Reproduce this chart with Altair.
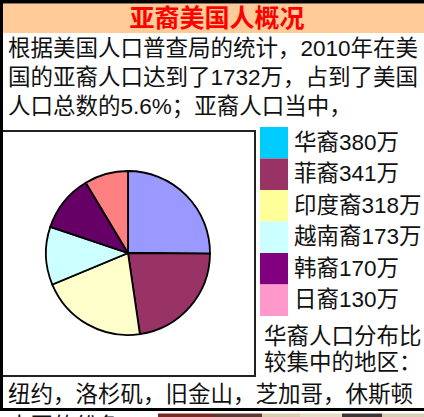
import altair as alt
import pandas as pd

# ---- data ----
categories = ["华裔", "菲裔", "印度裔", "越南裔", "韩裔", "日裔"]
values = [380, 341, 318, 173, 170, 130]
pie_colors = ["#9999FF", "#993366", "#FFFFCC", "#CCFFFF", "#660066", "#FF8080"]
legend_colors = ["#00CCFF", "#993366", "#FFFF99", "#CCFFFF", "#800080", "#FF99CC"]
unit = "万"
title_text = "亚裔美国人概况"
intro_lines = [
    "根据美国人口普查局的统计，2010年在美",
    "国的亚裔人口达到了1732万，占到了美国",
    "人口总数的5.6%；亚裔人口当中，",
]
side_lines = ["华裔人口分布比", "较集中的地区："]
bottom_lines = ["纽约，洛杉矶，旧金山，芝加哥，休斯顿", "大国的纷争"]
strip_colors = ["#7A2A24", "#5A3A30", "#D9CBB0", "#E6DCC6", "#3E3634", "#D8CDB5"]

W, H = 424, 417
FONT = "Liberation Sans, Noto Sans CJK SC, sans-serif"
FS = 22.5

def px(field):
    return alt.X(f"{field}:Q", scale=None, axis=None)

def py(field):
    return alt.Y(f"{field}:Q", scale=None, axis=None)

# ---- frame / boxes ----
frame_df = pd.DataFrame({
    "x0": [0, 0, 0, 3, 1],
    "x1": [W, 3, W, W, 255],
    "y0": [0, 0, 408, 3.5, 131],
    "y1": [3.5, 411, 411, 33, 376],
    "fill": ["#000000", "#000000", "#000000", "#FFCC99", "#FFFFFF"],
})
frame_fill = alt.Chart(frame_df.iloc[[3]]).mark_rect().encode(
    x=px("x0"), x2="x1", y=py("y0"), y2="y1",
    color=alt.Color("fill:N", scale=None),
)
box = alt.Chart(frame_df.iloc[[4]]).mark_rect(
    fill="white", stroke="#222222", strokeWidth=2
).encode(x=px("x0"), x2="x1", y=py("y0"), y2="y1")
bars = alt.Chart(frame_df.iloc[[0, 1, 2]]).mark_rect().encode(
    x=px("x0"), x2="x1", y=py("y0"), y2="y1",
    color=alt.Color("fill:N", scale=None),
)

# ---- bottom photo strip (decorative) ----
strip_df = pd.DataFrame({"color": strip_colors, "i": range(len(strip_colors))})
edges = [158, 215, 262, 300, 342, 382, W]
strip_df["x0"] = edges[:-1]
strip_df["x1"] = edges[1:]
strip = alt.Chart(strip_df).mark_rect().encode(
    x=px("x0"), x2="x1", y=alt.value(413.5), y2=alt.value(H),
    color=alt.Color("color:N", scale=None),
)

# ---- title ----
title = alt.Chart(pd.DataFrame({"t": [title_text]})).mark_text(
    font=FONT, fontSize=25, fontWeight="bold", color="#FF0000",
    align="center", baseline="middle",
).encode(x=alt.value(217), y=alt.value(19), text="t:N")

# ---- text lines ----
intro_df = pd.DataFrame({"t": intro_lines, "i": range(len(intro_lines))})
intro_df["y"] = 48.5 + intro_df["i"] * 29
intro = alt.Chart(intro_df).mark_text(
    font=FONT, fontSize=FS, color="#111111", align="left", baseline="middle"
).encode(x=alt.value(8), y=py("y"), text="t:N")

side_df = pd.DataFrame({"t": side_lines, "i": range(len(side_lines))})
side_df["y"] = 337 + side_df["i"] * 26
side = alt.Chart(side_df).mark_text(
    font=FONT, fontSize=FS, color="#111111", align="left", baseline="middle"
).encode(x=alt.value(264), y=py("y"), text="t:N")

bottom_df = pd.DataFrame({"t": bottom_lines, "i": range(len(bottom_lines))})
bottom_df["y"] = 395 + bottom_df["i"] * 32
bottom = alt.Chart(bottom_df).mark_text(
    font=FONT, fontSize=FS, color="#111111", align="left", baseline="middle"
).encode(x=alt.value(8), y=py("y"), text="t:N")

# ---- pie ----
pie_df = pd.DataFrame({
    "cat": categories, "value": values, "color": pie_colors, "order": range(len(values))
})
pie = alt.Chart(pie_df).mark_arc(stroke="black", strokeWidth=1.8, radius=82).encode(
    theta=alt.Theta("value:Q", stack=True),
    order=alt.Order("order:Q"),
    color=alt.Color("color:N", scale=None),
    x=alt.value(128), y=alt.value(253),
)

# ---- legend ----
leg_df = pd.DataFrame({
    "label": [f"{c}{v}{unit}" for c, v in zip(categories, values)],
    "color": legend_colors,
    "i": range(len(categories)),
})
leg_df["y0"] = 127 + leg_df["i"] * 31.5
leg_df["y1"] = leg_df["y0"] + 31.5
leg_df["ym"] = leg_df["y0"] + 15.5
leg_sw = alt.Chart(leg_df).mark_rect().encode(
    x=alt.value(260), x2=alt.value(288), y=py("y0"), y2="y1",
    color=alt.Color("color:N", scale=None),
)
leg_txt = alt.Chart(leg_df).mark_text(
    font=FONT, fontSize=FS, color="#111111", align="left", baseline="middle"
).encode(x=alt.value(294), y=py("ym"), text="label:N")

chart = alt.layer(
    frame_fill, box, bars, strip, title, intro, side, bottom, pie, leg_sw, leg_txt
).properties(
    width=W, height=H, padding=0, autosize="none", background="white"
).configure_view(stroke=None)

chart.save("out.html", embed_options={"renderer": "svg", "actions": False})
